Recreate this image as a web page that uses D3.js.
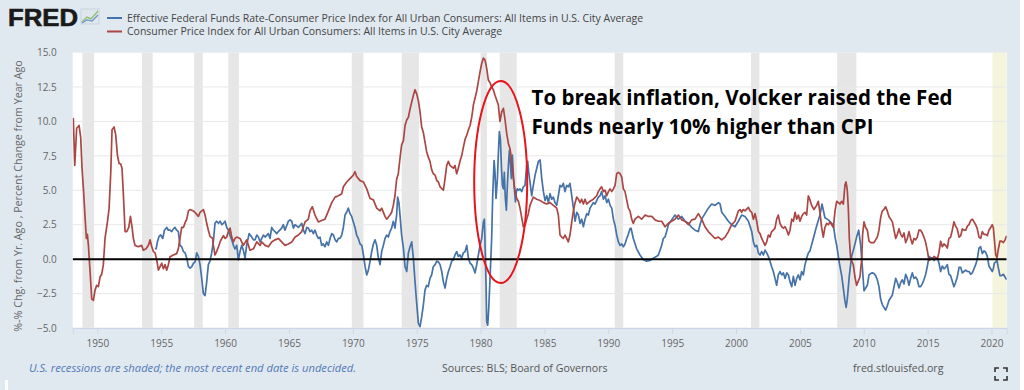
<!DOCTYPE html>
<html>
<head>
<meta charset="utf-8">
<script src="https://cdn.jsdelivr.net/npm/d3@7"></script>
<style>
  body { margin: 0; background: #ffffff; }
  svg { display: block; font-family: "Open Sans", sans-serif; }
</style>
</head>
<body>
<svg id="chart" width="1024" height="390"></svg>
<script>
// recession periods, decimal years
var recessions = [
  [1948.83, 1949.75], [1953.50, 1954.33], [1957.58, 1958.25], [1960.25, 1961.08],
  [1969.92, 1970.83], [1973.83, 1975.17], [1980.00, 1980.50], [1981.50, 1982.83],
  [1990.50, 1991.17], [2001.17, 2001.83], [2007.92, 2009.42]
];
var openRecessionStart = 2020.08;   // end date undecided

var yTicks = [-5, -2.5, 0, 2.5, 5, 7.5, 10, 12.5, 15];
var xTicks = [1950, 1955, 1960, 1965, 1970, 1975, 1980, 1985, 1990, 1995, 2000, 2005, 2010, 2015, 2020];

var seriesNames = [
  "Effective Federal Funds Rate-Consumer Price Index for All Urban Consumers: All Items in U.S. City Average",
  "Consumer Price Index for All Urban Consumers: All Items in U.S. City Average"
];

// CPI, percent change from year ago  [year, value]
var cpi = [
  [1948.07,10.2],[1948.12,10.2],[1948.23,6.8],[1948.38,9.5],[1948.57,9.7],[1948.70,8.8],[1948.80,6.6],[1948.91,5.1],
  [1949.04,3.0],[1949.14,1.5],[1949.22,1.8],[1949.30,1.0],[1949.43,-0.9],[1949.56,-2.9],[1949.69,-3.0],[1949.82,-2.25],
  [1949.95,-1.9],[1950.08,-2.0],[1950.21,-1.3],[1950.34,-1.1],[1950.47,-0.4],[1950.60,1.5],[1950.79,2.7],[1950.92,3.7],
  [1951.05,6.3],[1951.15,9.4],[1951.31,9.6],[1951.44,9.0],[1951.57,7.55],[1951.70,6.95],[1951.83,6.9],[1951.93,6.6],
  [1952.04,4.65],[1952.17,2.0],[1952.30,2.0],[1952.46,2.3],[1952.59,3.1],[1952.72,2.3],[1952.82,1.5],[1952.95,1.0],
  [1953.21,0.9],[1953.47,1.0],[1953.60,0.65],[1953.81,0.75],[1954.00,1.0],[1954.13,1.4],[1954.26,0.9],[1954.39,0.55],
  [1954.52,0.45],[1954.65,-0.07],[1954.78,-0.8],[1954.91,-0.55],[1955.04,-0.3],[1955.17,-0.7],[1955.30,-0.4],[1955.43,-0.8],
  [1955.56,-0.4],[1955.69,0.17],[1955.95,0.3],[1956.21,0.4],[1956.34,0.75],[1956.47,1.5],[1956.60,2.3],[1956.74,2.3],
  [1956.87,2.65],[1957.00,2.9],[1957.13,3.5],[1957.26,3.6],[1957.52,3.5],[1957.73,3.3],[1957.91,3.1],[1958.04,3.4],
  [1958.30,3.6],[1958.43,3.2],[1958.56,2.6],[1958.69,2.1],[1958.82,1.65],[1959.03,1.5],[1959.08,1.0],[1959.21,0.3],
  [1959.34,0.55],[1959.48,0.9],[1959.61,1.25],[1959.74,1.5],[1959.87,1.7],[1960.00,1.5],[1960.13,1.6],[1960.26,2.0],
  [1960.39,2.25],[1960.52,1.6],[1960.65,1.25],[1960.78,1.5],[1960.91,1.6],[1961.17,1.5],[1961.43,1.0],[1961.69,1.4],
  [1961.95,0.65],[1962.22,0.75],[1962.48,1.25],[1962.74,1.0],[1962.87,1.25],[1963.13,1.0],[1963.39,0.9],[1963.65,1.25],
  [1963.91,1.4],[1964.17,1.5],[1964.43,1.25],[1964.69,1.0],[1964.95,1.1],[1965.22,1.25],[1965.48,1.6],[1965.74,1.75],
  [1966.00,2.0],[1966.26,2.7],[1966.52,2.9],[1966.65,3.5],[1966.83,3.8],[1967.04,3.2],[1967.30,2.7],[1967.56,2.8],
  [1967.82,2.9],[1968.09,3.5],[1968.35,4.1],[1968.61,4.5],[1968.87,4.6],[1969.13,4.75],[1969.26,5.25],[1969.52,5.6],
  [1969.78,5.85],[1970.04,6.1],[1970.17,6.35],[1970.30,6.0],[1970.57,5.7],[1970.83,5.6],[1971.09,5.1],[1971.35,4.4],
  [1971.61,4.3],[1971.87,3.7],[1972.13,3.5],[1972.26,3.7],[1972.52,3.1],[1972.65,2.9],[1972.91,3.2],[1973.04,3.4],
  [1973.17,3.9],[1973.30,4.6],[1973.43,5.8],[1973.56,6.2],[1973.69,7.3],[1973.82,8.3],[1973.96,8.6],[1974.09,9.7],
  [1974.22,10.1],[1974.35,10.3],[1974.48,10.9],[1974.61,11.4],[1974.74,11.9],[1974.87,12.3],[1975.00,12.0],[1975.13,11.5],
  [1975.26,10.7],[1975.39,9.6],[1975.52,9.2],[1975.65,8.5],[1975.78,7.8],[1975.91,7.4],[1976.04,7.1],[1976.17,6.5],
  [1976.30,6.2],[1976.44,6.1],[1976.57,5.7],[1976.70,5.6],[1976.83,5.25],[1977.09,5.0],[1977.22,5.85],[1977.35,6.8],
  [1977.48,7.1],[1977.61,6.8],[1977.74,6.7],[1977.87,6.6],[1978.00,6.8],[1978.13,6.2],[1978.26,6.6],[1978.39,7.1],
  [1978.52,7.5],[1978.65,8.1],[1978.79,8.7],[1978.92,9.0],[1979.05,9.4],[1979.18,9.7],[1979.31,10.3],[1979.44,11.2],
  [1979.57,11.7],[1979.70,12.2],[1979.83,12.9],[1979.96,13.6],[1980.09,14.2],[1980.22,14.6],[1980.35,14.45],[1980.48,13.85],
  [1980.61,13.0],[1980.74,12.8],[1980.87,12.5],[1981.00,12.3],[1981.13,11.9],[1981.26,11.55],[1981.39,11.2],[1981.52,10.0],
  [1981.66,10.7],[1981.79,10.95],[1981.92,10.1],[1982.05,9.1],[1982.18,8.4],[1982.31,8.0],[1982.44,7.1],[1982.57,5.85],
  [1982.70,4.9],[1982.83,4.4],[1982.96,4.2],[1983.09,3.7],[1983.35,2.35],[1983.48,2.45],[1983.61,2.9],[1983.74,3.3],
  [1983.87,3.9],[1984.00,4.2],[1984.13,4.5],[1984.40,4.35],[1984.66,4.25],[1984.92,4.1],[1985.18,4.0],[1985.44,4.1],
  [1985.70,3.9],[1985.96,3.7],[1986.09,3.2],[1986.22,1.75],[1986.35,1.6],[1986.48,1.5],[1986.61,1.75],[1986.74,1.5],
  [1986.87,1.25],[1987.00,1.75],[1987.14,2.7],[1987.27,3.5],[1987.40,4.1],[1987.53,4.5],[1987.66,4.35],[1987.79,4.1],
  [1987.92,4.35],[1988.05,4.0],[1988.18,4.35],[1988.31,4.0],[1988.44,4.1],[1988.57,4.2],[1988.83,4.35],[1989.09,4.6],
  [1989.22,4.9],[1989.35,5.1],[1989.48,5.25],[1989.62,4.9],[1989.75,5.0],[1989.88,4.6],[1990.01,4.9],[1990.14,5.1],
  [1990.27,4.9],[1990.40,5.1],[1990.53,5.35],[1990.66,6.2],[1990.79,6.3],[1990.92,6.2],[1991.05,5.95],[1991.18,5.1],
  [1991.31,4.9],[1991.44,4.3],[1991.57,3.7],[1991.70,3.5],[1991.83,2.9],[1991.96,2.6],[1992.09,2.9],[1992.35,3.1],
  [1992.61,2.9],[1992.88,3.2],[1993.14,3.1],[1993.40,3.1],[1993.66,2.85],[1993.92,2.75],[1994.18,2.75],[1994.44,2.35],
  [1994.70,2.6],[1994.96,2.75],[1995.22,2.9],[1995.49,3.2],[1995.75,2.85],[1996.01,2.75],[1996.27,2.5],[1996.53,2.85],
  [1996.79,2.9],[1997.05,3.3],[1997.31,2.9],[1997.57,2.35],[1997.83,2.0],[1998.09,1.75],[1998.36,1.5],[1998.62,1.6],
  [1998.88,1.4],[1999.14,1.6],[1999.40,2.0],[1999.66,2.5],[1999.92,2.75],[2000.18,3.5],[2000.31,3.6],[2000.44,3.4],
  [2000.57,3.6],[2000.70,3.5],[2000.97,3.75],[2001.10,3.5],[2001.23,3.4],[2001.36,2.9],[2001.49,3.3],[2001.62,2.75],
  [2001.75,2.0],[2001.88,1.85],[2002.01,1.5],[2002.14,1.25],[2002.27,1.0],[2002.40,1.25],[2002.53,1.75],[2002.66,1.6],
  [2002.79,2.0],[2002.92,2.1],[2003.05,2.25],[2003.18,2.9],[2003.31,3.2],[2003.44,2.6],[2003.58,2.35],[2003.71,2.25],
  [2003.84,2.35],[2003.97,2.1],[2004.10,1.75],[2004.23,2.1],[2004.36,2.9],[2004.49,2.75],[2004.62,3.4],[2004.75,2.9],
  [2004.88,3.2],[2005.01,2.75],[2005.14,3.1],[2005.27,3.3],[2005.40,3.4],[2005.53,3.2],[2005.66,4.6],[2005.79,4.3],
  [2005.92,3.9],[2006.10,3.6],[2006.31,3.9],[2006.44,4.2],[2006.57,3.4],[2006.70,2.3],[2006.83,1.6],[2006.96,2.3],
  [2007.09,2.6],[2007.23,2.5],[2007.36,2.7],[2007.49,2.5],[2007.62,2.3],[2007.75,3.5],[2007.88,4.2],[2008.01,4.1],
  [2008.14,4.0],[2008.27,4.2],[2008.40,4.0],[2008.53,5.4],[2008.61,5.6],[2008.71,5.0],[2008.79,3.7],[2008.87,1.5],
  [2008.97,0.1],[2009.08,-0.2],[2009.18,-0.4],[2009.31,-1.3],[2009.44,-1.9],[2009.57,-1.6],[2009.70,-1.3],[2009.84,0.0],
  [2009.91,1.8],[2010.02,2.7],[2010.15,2.3],[2010.28,2.1],[2010.41,1.3],[2010.54,1.2],[2010.67,1.2],[2010.80,1.2],
  [2010.93,1.4],[2011.06,1.6],[2011.19,2.1],[2011.32,3.0],[2011.45,3.5],[2011.58,3.6],[2011.71,3.8],[2011.84,3.5],
  [2011.97,3.1],[2012.11,2.9],[2012.24,2.7],[2012.37,2.1],[2012.50,1.5],[2012.63,1.8],[2012.76,2.2],[2012.89,1.8],
  [2013.02,1.6],[2013.15,1.9],[2013.28,1.2],[2013.41,1.5],[2013.54,2.0],[2013.67,1.5],[2013.80,1.1],[2013.93,1.5],
  [2014.06,1.4],[2014.19,1.6],[2014.32,2.1],[2014.45,2.1],[2014.58,1.9],[2014.71,1.6],[2014.85,1.2],[2014.98,0.6],
  [2015.11,-0.1],[2015.24,0.0],[2015.37,0.0],[2015.50,0.2],[2015.63,0.1],[2015.76,0.0],[2015.89,0.5],[2016.02,1.3],
  [2016.15,0.9],[2016.28,1.1],[2016.41,1.0],[2016.54,0.8],[2016.67,1.5],[2016.80,1.6],[2016.93,2.1],[2017.06,2.7],
  [2017.19,2.4],[2017.32,2.2],[2017.46,1.6],[2017.59,1.7],[2017.72,2.2],[2017.85,2.1],[2017.98,2.1],[2018.11,2.4],
  [2018.24,2.5],[2018.37,2.8],[2018.50,2.9],[2018.63,2.7],[2018.76,2.5],[2018.89,2.2],[2019.02,1.6],[2019.15,1.5],
  [2019.28,2.0],[2019.41,1.8],[2019.54,1.8],[2019.67,1.7],[2019.80,2.1],[2019.93,2.3],[2020.06,2.5],[2020.14,2.3],
  [2020.22,1.5],[2020.33,0.3],[2020.43,0.1],[2020.53,0.7],[2020.66,1.3],[2020.79,1.3],[2020.93,1.2],[2021.06,1.4],
  [2021.19,1.7]
];

// Effective fed funds rate minus CPI  [year, value]
var fundsMinusCpi = [
  [1954.52,0.8],[1954.60,0.75],[1954.70,1.25],[1954.83,1.65],[1954.96,1.75],[1955.12,1.5],[1955.25,2.1],[1955.43,2.3],
  [1955.56,2.1],[1955.69,2.1],[1955.82,2.0],[1955.95,2.2],[1956.08,2.3],[1956.21,2.1],[1956.34,2.0],[1956.47,1.0],
  [1956.60,0.9],[1956.74,0.55],[1956.87,0.45],[1957.00,0.07],[1957.13,-0.55],[1957.26,-0.65],[1957.39,-0.55],[1957.52,-0.3],
  [1957.65,-0.2],[1957.78,0.45],[1957.91,0.2],[1958.04,-0.4],[1958.17,-1.4],[1958.30,-2.5],[1958.43,-2.65],[1958.56,-1.65],
  [1958.69,-0.4],[1958.82,-0.15],[1958.95,0.45],[1959.08,1.25],[1959.21,2.6],[1959.34,2.75],[1959.48,2.6],[1959.61,2.75],
  [1959.74,2.5],[1959.87,2.6],[1960.00,2.75],[1960.13,2.3],[1960.26,2.1],[1960.39,1.7],[1960.52,1.4],[1960.65,1.0],
  [1960.78,0.75],[1960.91,1.0],[1961.04,-0.05],[1961.17,0.55],[1961.30,1.0],[1961.43,0.65],[1961.56,0.07],[1961.69,1.0],
  [1961.88,1.85],[1962.09,1.6],[1962.22,1.4],[1962.35,1.4],[1962.48,1.75],[1962.61,1.6],[1962.74,1.25],[1962.87,1.5],
  [1963.00,1.75],[1963.13,1.6],[1963.39,1.85],[1963.52,1.5],[1963.65,2.3],[1963.78,2.1],[1963.91,2.0],[1964.04,1.85],
  [1964.17,2.0],[1964.43,2.25],[1964.56,2.5],[1964.69,2.1],[1964.95,2.75],[1965.09,2.85],[1965.22,2.75],[1965.35,2.25],
  [1965.48,2.5],[1965.74,2.3],[1966.00,2.6],[1966.13,2.1],[1966.26,1.85],[1966.39,2.3],[1966.52,2.25],[1966.65,2.0],
  [1966.78,2.1],[1966.91,1.85],[1967.04,2.1],[1967.17,1.75],[1967.30,1.5],[1967.43,1.6],[1967.56,1.0],[1967.69,1.1],
  [1967.82,0.9],[1967.95,1.25],[1968.09,1.0],[1968.22,1.5],[1968.35,1.85],[1968.48,1.75],[1968.61,1.4],[1968.74,1.25],
  [1968.87,1.5],[1969.00,1.5],[1969.13,1.75],[1969.26,2.3],[1969.39,3.2],[1969.52,3.4],[1969.65,3.7],[1969.78,3.3],
  [1969.91,3.1],[1970.04,2.7],[1970.17,2.3],[1970.30,1.75],[1970.43,1.5],[1970.57,1.1],[1970.70,1.0],[1970.83,0.3],
  [1970.96,-0.55],[1971.09,-1.15],[1971.22,-0.8],[1971.35,-0.15],[1971.48,0.55],[1971.61,1.1],[1971.74,1.4],[1971.87,1.0],
  [1972.00,0.07],[1972.13,-0.4],[1972.26,0.55],[1972.39,1.0],[1972.52,1.5],[1972.65,1.75],[1972.78,1.6],[1972.91,2.0],
  [1973.04,2.25],[1973.17,2.75],[1973.30,2.25],[1973.43,3.2],[1973.51,4.5],[1973.61,4.1],[1973.72,2.9],[1973.82,1.75],
  [1973.96,0.8],[1974.09,-0.55],[1974.22,-0.9],[1974.35,0.45],[1974.48,0.9],[1974.61,1.25],[1974.74,0.07],[1974.87,-1.65],
  [1975.00,-3.2],[1975.13,-4.65],[1975.26,-4.9],[1975.39,-4.2],[1975.52,-3.35],[1975.65,-2.25],[1975.78,-1.9],[1975.91,-2.0],
  [1976.04,-1.4],[1976.17,-1.15],[1976.30,-0.55],[1976.44,-0.4],[1976.57,-0.15],[1976.70,-0.2],[1976.83,-0.4],[1976.96,-0.9],
  [1977.09,-1.65],[1977.22,-2.1],[1977.35,-1.4],[1977.48,-0.9],[1977.61,-0.55],[1977.74,-0.15],[1977.87,-0.05],[1978.00,0.3],
  [1978.13,0.55],[1978.26,0.2],[1978.39,0.3],[1978.52,0.07],[1978.65,0.45],[1978.79,0.55],[1978.92,1.0],[1979.05,0.07],
  [1979.18,-0.3],[1979.31,-0.4],[1979.44,-0.65],[1979.57,-1.0],[1979.70,-0.4],[1979.83,0.3],[1979.96,1.0],[1980.09,1.5],
  [1980.22,2.7],[1980.30,2.9],[1980.38,0.07],[1980.43,-1.9],[1980.48,-4.55],[1980.56,-4.8],[1980.64,-3.6],[1980.74,-1.4],
  [1980.87,1.5],[1980.95,4.6],[1981.06,7.15],[1981.13,6.3],[1981.21,4.4],[1981.32,5.85],[1981.39,7.55],[1981.47,9.25],
  [1981.55,8.75],[1981.63,6.8],[1981.71,5.35],[1981.79,5.1],[1981.86,6.3],[1981.94,4.4],[1982.02,3.55],[1982.10,5.35],
  [1982.18,6.8],[1982.26,7.9],[1982.33,7.1],[1982.41,5.85],[1982.49,7.55],[1982.57,6.1],[1982.65,5.1],[1982.73,4.15],
  [1982.80,4.9],[1982.88,5.1],[1982.99,5.0],[1983.09,5.1],[1983.22,4.9],[1983.35,5.25],[1983.48,5.35],[1983.61,6.8],
  [1983.69,7.1],[1983.77,6.3],[1983.87,5.6],[1984.00,4.6],[1984.13,5.35],[1984.27,6.1],[1984.40,6.6],[1984.53,7.1],
  [1984.66,7.2],[1984.79,5.85],[1984.92,4.9],[1985.05,4.25],[1985.18,4.6],[1985.31,4.1],[1985.44,4.75],[1985.57,4.35],
  [1985.70,4.5],[1985.83,4.1],[1985.96,3.9],[1986.09,4.6],[1986.22,5.35],[1986.35,5.25],[1986.48,5.5],[1986.61,4.9],
  [1986.74,5.35],[1986.87,5.25],[1987.00,5.5],[1987.14,4.6],[1987.27,3.7],[1987.40,2.75],[1987.53,3.4],[1987.66,3.2],
  [1987.79,2.6],[1987.92,2.9],[1988.05,2.35],[1988.18,2.9],[1988.31,3.3],[1988.44,3.2],[1988.57,3.7],[1988.70,3.9],
  [1988.83,4.1],[1988.96,4.0],[1989.09,4.25],[1989.22,4.5],[1989.35,4.6],[1989.48,4.9],[1989.62,4.35],[1989.75,4.6],
  [1989.88,4.1],[1990.01,4.35],[1990.14,3.9],[1990.27,3.7],[1990.40,2.9],[1990.53,2.45],[1990.66,1.75],[1990.79,1.25],
  [1990.92,1.0],[1991.05,1.1],[1991.18,0.9],[1991.31,1.1],[1991.44,1.5],[1991.57,1.8],[1991.70,2.2],[1991.78,2.25],
  [1991.96,1.5],[1992.22,0.75],[1992.48,0.3],[1992.75,-0.05],[1993.01,-0.15],[1993.27,-0.1],[1993.53,0.07],[1993.79,0.2],
  [1993.92,0.3],[1994.05,0.65],[1994.18,1.0],[1994.31,1.5],[1994.44,1.6],[1994.57,2.0],[1994.70,2.5],[1994.96,2.85],
  [1995.22,3.2],[1995.49,2.9],[1995.75,3.1],[1996.01,2.75],[1996.27,2.6],[1996.53,2.3],[1996.79,2.1],[1997.05,2.0],
  [1997.18,2.5],[1997.31,2.9],[1997.57,3.3],[1997.83,3.7],[1998.09,4.0],[1998.36,3.9],[1998.62,4.1],[1998.75,4.0],
  [1998.88,3.4],[1999.14,3.1],[1999.40,2.75],[1999.66,2.5],[1999.92,2.35],[2000.18,2.75],[2000.44,3.2],[2000.70,3.1],
  [2000.97,2.75],[2001.23,2.0],[2001.36,1.25],[2001.49,0.9],[2001.62,1.0],[2001.75,0.45],[2001.88,0.3],[2002.01,0.55],
  [2002.14,0.3],[2002.27,0.65],[2002.40,0.45],[2002.53,0.2],[2002.66,-0.15],[2002.79,-0.55],[2002.92,-0.9],[2003.05,-1.4],
  [2003.18,-1.9],[2003.31,-1.15],[2003.44,-0.9],[2003.58,-1.15],[2003.71,-1.0],[2003.84,-1.4],[2003.97,-1.0],[2004.10,-1.15],
  [2004.23,-1.65],[2004.36,-2.0],[2004.49,-1.25],[2004.62,-1.9],[2004.75,-1.4],[2004.88,-1.15],[2005.01,-1.5],[2005.14,-0.9],
  [2005.27,-1.15],[2005.40,-0.4],[2005.53,0.07],[2005.66,0.45],[2005.79,0.6],[2006.05,1.5],[2006.31,2.4],[2006.57,3.2],
  [2006.73,4.0],[2006.96,3.0],[2007.23,2.85],[2007.49,2.6],[2007.62,2.5],[2007.75,1.6],[2007.88,1.0],[2008.09,-0.3],
  [2008.27,-1.2],[2008.40,-2.1],[2008.52,-3.0],[2008.62,-3.5],[2008.71,-2.9],[2008.87,-1.2],[2009.05,0.2],[2009.23,0.8],
  [2009.44,1.6],[2009.60,2.1],[2009.76,1.0],[2009.89,-0.6],[2010.02,-2.3],[2010.15,-2.1],[2010.28,-1.9],[2010.41,-1.15],
  [2010.54,-1.05],[2010.67,-1.0],[2010.80,-1.05],[2010.93,-1.2],[2011.06,-1.5],[2011.19,-2.0],[2011.32,-2.9],[2011.45,-3.3],
  [2011.58,-3.5],[2011.71,-3.7],[2011.84,-3.4],[2011.97,-3.0],[2012.11,-2.8],[2012.24,-2.6],[2012.37,-2.0],[2012.50,-1.4],
  [2012.63,-1.7],[2012.76,-2.1],[2012.89,-1.7],[2013.02,-1.5],[2013.15,-1.8],[2013.28,-1.1],[2013.41,-1.4],[2013.54,-1.9],
  [2013.67,-1.4],[2013.80,-1.0],[2013.93,-1.4],[2014.06,-1.3],[2014.19,-1.5],[2014.32,-2.0],[2014.45,-2.0],[2014.58,-1.8],
  [2014.71,-1.5],[2014.85,-1.1],[2014.98,-0.5],[2015.11,0.2],[2015.24,0.1],[2015.37,0.1],[2015.50,-0.1],[2015.63,0.05],
  [2015.76,0.1],[2015.89,-0.3],[2016.02,-0.9],[2016.15,-0.5],[2016.28,-0.7],[2016.41,-0.6],[2016.54,-0.4],[2016.67,-1.1],
  [2016.80,-1.2],[2016.93,-1.6],[2017.06,-2.0],[2017.19,-1.7],[2017.32,-1.3],[2017.46,-0.6],[2017.59,-0.6],[2017.72,-1.0],
  [2017.85,-0.9],[2017.98,-0.8],[2018.11,-0.9],[2018.24,-0.9],[2018.37,-1.1],[2018.50,-1.0],[2018.63,-0.7],[2018.76,-0.4],
  [2018.89,0.0],[2019.02,0.8],[2019.15,0.9],[2019.28,0.4],[2019.41,0.6],[2019.54,0.5],[2019.67,0.2],[2019.80,-0.5],
  [2019.93,-0.7],[2020.06,-0.9],[2020.14,-0.7],[2020.22,-0.3],[2020.33,-0.2],[2020.43,-0.1],[2020.53,-0.6],[2020.66,-1.2],
  [2020.79,-1.2],[2020.93,-1.1],[2021.06,-1.3],[2021.19,-1.5]
];

var svg = d3.select("#chart");

var plotLeft = 72.7, plotRight = 1006.7, plotTop = 52.5, plotBottom = 328;

// page background of the FRED graph (white strip at the far right)
svg.append("rect")
  .attr("width", 1020).attr("height", 390)
  .attr("fill", "#e1e9f0");
svg.append("rect")
  .attr("x", 5).attr("y", 380).attr("width", 3).attr("height", 10)
  .attr("fill", "#ffffff");

var x = d3.scaleLinear().domain([1948.07, 2021.19]).range([plotLeft, plotRight]);
var y = d3.scaleLinear().domain([-5, 15]).range([plotBottom, plotTop]);

// plot area
svg.append("rect")
  .attr("x", plotLeft).attr("y", plotTop)
  .attr("width", plotRight - plotLeft).attr("height", plotBottom - plotTop)
  .attr("fill", "#ffffff");

svg.append("clipPath").attr("id", "plot-clip")
  .append("rect")
  .attr("x", plotLeft).attr("y", plotTop)
  .attr("width", plotRight - plotLeft).attr("height", plotBottom - plotTop);

var g = svg.append("g").attr("clip-path", "url(#plot-clip)");

// recession bars
g.selectAll("rect.recession")
  .data(recessions)
  .enter()
  .append("rect")
  .attr("class", "recession")
  .attr("x", function(d) { return x(d[0]); })
  .attr("width", function(d) { return x(d[1]) - x(d[0]); })
  .attr("y", plotTop)
  .attr("height", plotBottom - plotTop)
  .attr("fill", "#e6e6e6");

g.append("rect")
  .attr("x", x(openRecessionStart))
  .attr("width", x.range()[1] - x(openRecessionStart))
  .attr("y", plotTop)
  .attr("height", plotBottom - plotTop)
  .attr("fill", "#f5f4dc");

// horizontal grid
g.selectAll("line.grid")
  .data(yTicks)
  .enter()
  .append("line")
  .attr("class", "grid")
  .attr("x1", plotLeft).attr("x2", plotRight)
  .attr("y1", function(d) { return y(d); })
  .attr("y2", function(d) { return y(d); })
  .attr("stroke", "#e8e8e8")
  .attr("stroke-width", 1);

var line = d3.line()
  .x(function(d) { return x(d[0]); })
  .y(function(d) { return y(d[1]); });

g.append("path")
  .datum(fundsMinusCpi)
  .attr("d", line)
  .attr("fill", "none")
  .attr("stroke", "#4572a7")
  .attr("stroke-width", 1.7)
  .attr("stroke-linejoin", "round");

g.append("path")
  .datum(cpi)
  .attr("d", line)
  .attr("fill", "none")
  .attr("stroke", "#aa4643")
  .attr("stroke-width", 1.7)
  .attr("stroke-linejoin", "round");

// zero line
g.append("line")
  .attr("x1", plotLeft).attr("x2", plotRight)
  .attr("y1", y(0)).attr("y2", y(0))
  .attr("stroke", "#000000")
  .attr("stroke-width", 2);

// y axis labels
svg.append("g")
  .attr("transform", "translate(" + (plotLeft - 13) + ",0)")
  .call(d3.axisLeft(y).tickValues(yTicks).tickSize(0).tickFormat(d3.format(".1f")))
  .call(function(a) { a.select(".domain").remove(); })
  .selectAll("text")
  .attr("fill", "#666666")
  .style("font-family", "'Open Sans', sans-serif")
  .style("font-size", "10px");

// x axis
var xAxis = svg.append("g")
  .attr("transform", "translate(0," + plotBottom + ")")
  .call(d3.axisBottom(x).tickValues(xTicks).tickSize(6).tickPadding(6).tickFormat(d3.format("d")));
xAxis.select(".domain").attr("stroke", "#ccd6eb");
xAxis.selectAll(".tick line").attr("stroke", "#ccd6eb");
xAxis.selectAll("text")
  .attr("fill", "#666666")
  .style("font-family", "'Open Sans', sans-serif")
  .style("font-size", "10px");

// y axis title
svg.append("text")
  .attr("transform", "translate(22,196) rotate(-90)")
  .attr("text-anchor", "middle")
  .attr("fill", "#666666")
  .style("font-size", "10.7px")
  .text("%-% Chg. from Yr. Ago , Percent Change from Year Ago");

// FRED logo
svg.append("text")
  .attr("x", 8).attr("y", 26)
  .attr("textLength", 70).attr("lengthAdjust", "spacingAndGlyphs")
  .style("font-family", "'Liberation Sans', Arial, sans-serif")
  .style("font-weight", "bold")
  .style("font-size", "23px")
  .attr("stroke", "#1a1a1a").attr("stroke-width", 0.6)
  .attr("fill", "#1a1a1a")
  .text("FRED");

var logo = svg.append("g").attr("transform", "translate(81,9)");
logo.append("rect").attr("width", 18).attr("height", 15).attr("fill", "#dfe6ee").attr("stroke", "#c9d3de");
logo.append("polyline").attr("points", "1,13 6,8 10,10 17,2").attr("fill", "none").attr("stroke", "#8fbf6a").attr("stroke-width", 1.4);
logo.append("polyline").attr("points", "1,14 6,11 11,12 17,6").attr("fill", "none").attr("stroke", "#6b93c8").attr("stroke-width", 1.2);

// legend
var legend = svg.append("g").selectAll("g")
  .data(seriesNames)
  .enter()
  .append("g")
  .attr("transform", function(d, i) { return "translate(107," + (18 + i * 13.5) + ")"; });
legend.append("line")
  .attr("x1", 0).attr("x2", 15)
  .attr("stroke", function(d, i) { return i === 0 ? "#4572a7" : "#aa4643"; })
  .attr("stroke-width", 2);
legend.append("text")
  .attr("x", 20).attr("dy", "0.35em")
  .attr("fill", "#444444")
  .style("font-size", "10.5px")
  .text(function(d) { return d; });

// annotation
var note = svg.append("text")
  .attr("fill", "#000000")
  .style("font-family", "'Open Sans', sans-serif")
  .style("font-weight", "bold")
  .style("font-size", "20.5px");
note.append("tspan").attr("x", 531.5).attr("y", 105)
  .attr("textLength", 421).attr("lengthAdjust", "spacingAndGlyphs")
  .text("To break inflation, Volcker raised the Fed");
note.append("tspan").attr("x", 531.5).attr("y", 134)
  .attr("textLength", 342).attr("lengthAdjust", "spacingAndGlyphs")
  .text("Funds nearly 10% higher than CPI");

svg.append("ellipse")
  .attr("cx", 500.7).attr("cy", 182)
  .attr("rx", 26.5).attr("ry", 101)
  .attr("fill", "none")
  .attr("stroke", "#e8131b")
  .attr("stroke-width", 2);

// footer
svg.append("text")
  .attr("x", 29).attr("y", 372)
  .attr("fill", "#4f79b8")
  .style("font-style", "italic")
  .style("font-size", "11.2px")
  .text("U.S. recessions are shaded; the most recent end date is undecided.");
svg.append("text")
  .attr("x", 442).attr("y", 372)
  .attr("fill", "#555555")
  .style("font-size", "10.6px")
  .text("Sources: BLS; Board of Governors");
svg.append("text")
  .attr("x", 853).attr("y", 372)
  .attr("fill", "#555555")
  .style("font-size", "10.6px")
  .text("fred.stlouisfed.org");

// full screen icon
var fs = svg.append("g").attr("transform", "translate(995,368)")
  .attr("fill", "none").attr("stroke", "#333333").attr("stroke-width", 1.6);
fs.append("path").attr("d", "M0,4V0H4 M8,0H12V4 M12,8V12H8 M4,12H0V8");
</script>
</body>
</html>
